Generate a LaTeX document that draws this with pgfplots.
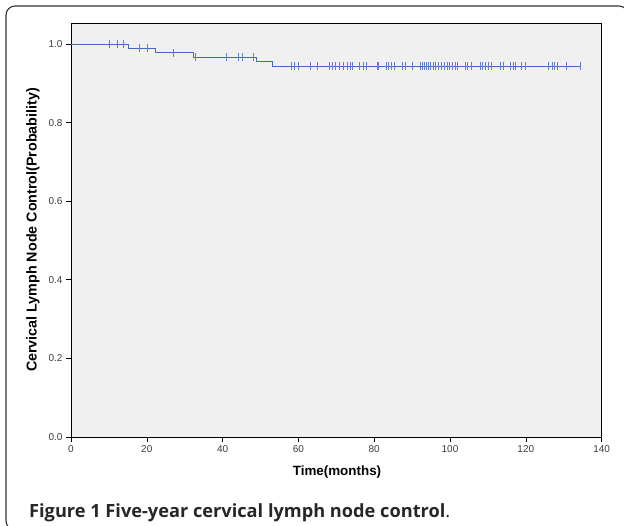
\documentclass[border=0pt]{standalone}
\usepackage{pgfplots}
\pgfplotsset{compat=1.18}
\usepackage{fontspec}
\setmainfont{Liberation Sans}
\newfontfamily\capfont{Open Sans}

\definecolor{kmblue}{RGB}{72,104,192}
\definecolor{plotbg}{RGB}{240,240,240}
\definecolor{ticktext}{RGB}{60,60,60}
\definecolor{framecol}{RGB}{50,50,50}

\begin{document}
\begin{tikzpicture}
\useasboundingbox (-71pt,-89pt) rectangle (553pt,437pt);

% rounded figure frame (partly cut at the page edge)
\draw[framecol, line width=1.1pt, rounded corners=9pt]
  (557pt,420pt) |- (-65pt,431pt) |- (-45pt,-93pt);

\begin{axis}[
  at={(0pt,0pt)}, anchor=origin,
  scale only axis,
  width=530.6pt, height=414pt,
  xmin=0, xmax=140,
  ymin=0, ymax=1.0534,
  xtick={0,20,...,140},
  ytick={0,0.2,...,1.0},
  yticklabel style={/pgf/number format/fixed, /pgf/number format/fixed zerofill, /pgf/number format/precision=1},
  /pgf/number format/assume math mode=true,
  ticklabel style={font=\fontsize{10}{12}\selectfont, text=ticktext},
  tick align=outside,
  major tick length=5pt,
  tick style={black, line width=0.6pt},
  xtick pos=bottom, ytick pos=left,
  axis line style={black, line width=0.8pt},
  axis background/.style={fill=plotbg},
  clip=false,
]
  % Kaplan-Meier step curve
  \addplot[kmblue, line width=0.8pt, const plot, mark=none] coordinates {
    (0,1.0) (15.1,0.989) (22.2,0.978) (32.3,0.967) (49.0,0.955) (53.1,0.944) (134.3,0.944)
  };
  % censored observations
  \addplot[kmblue!85, only marks, mark=|, mark size=4pt, line width=0.6pt] coordinates {
    (10.1,1.0) (12.1,1.0) (13.8,1.0)
    (18.0,0.989) (20.1,0.989)
    (27.0,0.978)
    (32.9,0.967) (41.1,0.967) (44.2,0.967) (45.1,0.967) (48.0,0.967)
    (58.0,0.944) (58.9,0.944) (60.0,0.944) (63.1,0.944) (65.1,0.944)
    (68.1,0.944) (68.9,0.944) (69.8,0.944) (70.8,0.944) (71.8,0.944)
    (72.8,0.944) (73.6,0.944) (74.2,0.944) (76.1,0.944) (77.0,0.944)
    (78.0,0.944) (80.7,0.944) (81.1,0.944) (83.1,0.944) (83.8,0.944)
    (84.5,0.944) (85.2,0.944) (87.3,0.944) (88.1,0.944) (90.1,0.944)
    (92.1,0.944) (92.6,0.944) (93.2,0.944) (93.8,0.944) (94.3,0.944)
    (94.8,0.944) (95.5,0.944) (96.1,0.944) (96.9,0.944) (97.7,0.944)
    (98.4,0.944) (99.2,0.944) (99.8,0.944) (100.6,0.944) (101.3,0.944)
    (102.0,0.944) (104.0,0.944) (104.6,0.944) (105.5,0.944) (107.9,0.944)
    (108.6,0.944) (109.3,0.944) (110.1,0.944) (110.8,0.944) (113.2,0.944)
    (114.1,0.944) (115.9,0.944) (116.6,0.944) (117.2,0.944) (118.9,0.944)
    (119.8,0.944) (126.0,0.944) (126.9,0.944) (127.5,0.944) (128.2,0.944)
    (130.8,0.944) (134.3,0.944)
  };
\end{axis}

% axis titles
\node[anchor=base, font=\bfseries\fontsize{13.4}{15}\selectfont] at (266pt,-39pt) {Time(months)};
\node[rotate=90, font=\bfseries\fontsize{14.3}{16}\selectfont] at (-38pt,207pt) {Cervical Lymph Node Control(Probability)};

% caption
\node[anchor=base west, inner sep=0pt, font=\capfont\fontsize{18.2}{21}\selectfont, text=black!85]
  at (-42pt,-81pt) {\textbf{Figure 1 Five-year cervical lymph node control}.};
\end{tikzpicture}
\end{document}
